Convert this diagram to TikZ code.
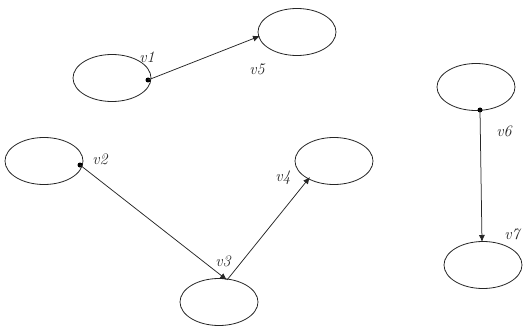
\documentclass[tikz,border=0pt]{standalone}
\usetikzlibrary{shapes.geometric,arrows.meta}
\begin{document}
\begin{tikzpicture}[x=1pt,y=-1pt,
  vtx/.style={draw=black!85,line width=0.8pt,ellipse,minimum width=78pt,minimum height=47pt,inner sep=0pt},
  edge/.style={draw=black!85,line width=0.75pt,-{Latex[length=7pt,width=6pt]}},
  lbl/.style={font=\fontsize{16}{16}\selectfont\itshape,inner sep=0pt,text=black!85},
  dotm/.style={circle,fill=black,inner sep=0pt,minimum size=5pt}]
\useasboundingbox (0,0) rectangle (528,329);
\node[vtx] (A) at (112,78) {};
\node[vtx] (B) at (297,32) {};
\node[vtx] (C) at (44,161) {};
\node[vtx] (D) at (334,161) {};
\node[vtx] (E) at (219,302) {};
\node[vtx] (F) at (476,87) {};
\node[vtx] (G) at (483,265) {};
\coordinate (v1) at (148,80);
\coordinate (v5) at (260,36);
\coordinate (v2) at (80,165);
\coordinate (v3) at (227,280);
\coordinate (v4) at (310,177);
\coordinate (v6) at (480,110);
\coordinate (v7) at (482,242);
\node[dotm] at (v1) {};
\node[dotm] at (v2) {};
\node[dotm] at (v6) {};
\draw[edge] (v1) -- (v5);
\draw[edge] (v2) -- (v3);
\draw[edge] (v3) -- (v4);
\draw[edge] (v6) -- (v7);
\node[lbl] (l1) at (147,57) {v1};
\node[lbl] (l5) at (257,69) {v5};
\node[lbl] (l2) at (100,159) {v2};
\node[lbl] (l4) at (283,178) {v4};
\node[lbl] (l3) at (223,261) {v3};
\node[lbl] (l6) at (504,131) {v6};
\node[lbl] (l7) at (512,234) {v7};
\end{tikzpicture}
\end{document}
